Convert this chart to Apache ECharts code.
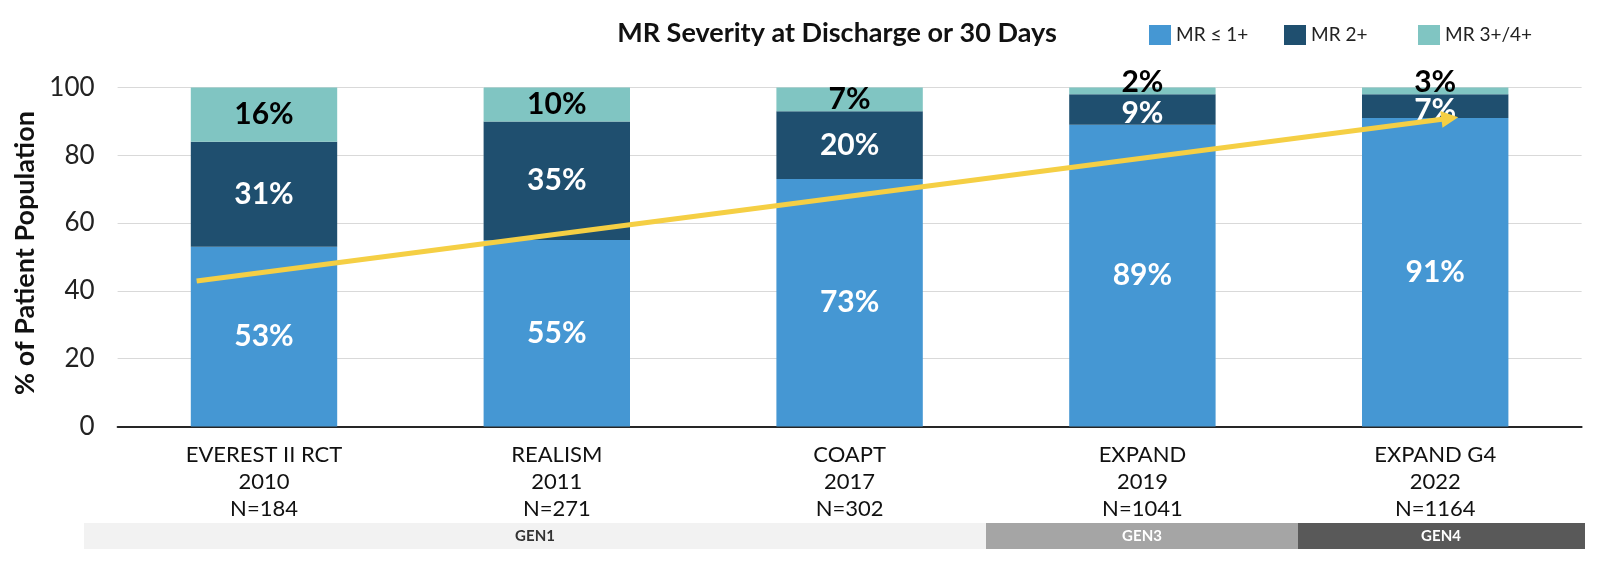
<!DOCTYPE html>
<html>
<head>
<meta charset="utf-8">
<script src="https://cdn.jsdelivr.net/npm/echarts@6/dist/echarts.min.js"></script>
<style>
  html, body { margin: 0; padding: 0; background: #ffffff; }
  #chart { width: 1606px; height: 572px; }
</style>
</head>
<body>
<div id="chart"></div>
<script>
// ---- data ----
const trialNames = ['EVEREST II RCT', 'REALISM', 'COAPT', 'EXPAND', 'EXPAND G4'];
const trialYears = ['2010', '2011', '2017', '2019', '2022'];
const sampleSizes = [184, 271, 302, 1041, 1164];
const mrLe1 = [53, 55, 73, 89, 91];
const mr2 = [31, 35, 20, 9, 7];
const mr34 = [16, 10, 7, 2, 3];
const seriesNames = ['MR \u2264 1+', 'MR 2+', 'MR 3+/4+'];
const yTicks = [0, 20, 40, 60, 80, 100];
const trendStart = [-0.23, 42.9];
const trendEnd = [4.05, 90.9];
const genLabels = ['GEN1', 'GEN3', 'GEN4'];

// ---- build ----
const categories = trialNames.map((n, i) => n + '\n' + trialYears[i] + '\nN=' + sampleSizes[i]);
const colors = ['#4597d3', '#1f4f6f', '#80c5c2'];
const FONT = 'Lato, "Open Sans", sans-serif';

const chart = echarts.init(document.getElementById('chart'));

function pctLabel(color) {
  return {
    show: true,
    position: 'inside',
    formatter: p => p.value + '%',
    color: color,
    fontFamily: FONT,
    fontWeight: 'bold',
    fontSize: 30
  };
}

const topData = mr34.map(v => v < 5 ? { value: v, label: { offset: [0, -9] } } : v);
const midData = mr2.map(v => v < 10 ? { value: v, label: { offset: [0, 4] } } : v);

const legendLefts = [1144, 1279, 1413];

const option = {
  animation: false,
  backgroundColor: '#ffffff',
  title: {
    text: 'MR Severity at Discharge or 30 Days',
    left: 832,
    top: 15,
    textAlign: 'center',
    textStyle: { fontFamily: FONT, fontWeight: 'bold', fontSize: 27, color: '#111' }
  },
  legend: seriesNames.map((nm, i) => ({
    data: [nm],
    left: legendLefts[i],
    top: 20,
    itemWidth: 22,
    itemHeight: 20,
    itemGap: 10,
    icon: 'rect',
    selectedMode: false,
    textStyle: { fontFamily: FONT, fontSize: 19, color: '#222' }
  })),
  grid: { left: 117.6, right: 24.4, top: 87.5, bottom: 145.5 },
  xAxis: [
    {
      type: 'category',
      data: categories,
      axisTick: { show: false },
      axisLine: { lineStyle: { color: '#262626', width: 2 } },
      axisLabel: {
        margin: 15,
        color: '#111',
        fontFamily: FONT,
        fontSize: 22,
        lineHeight: 27,
        interval: 0
      }
    },
    { type: 'value', min: -0.5, max: 4.5, show: false }
  ],
  yAxis: {
    type: 'value',
    min: yTicks[0],
    max: yTicks[yTicks.length - 1],
    interval: yTicks[1] - yTicks[0],
    name: '% of Patient Population',
    nameLocation: 'middle',
    nameGap: 70,
    nameTextStyle: { fontFamily: FONT, fontWeight: 'bold', fontSize: 27, color: '#111', padding: [0, 0, 0, 8] },
    axisLine: { show: false },
    axisTick: { show: false },
    axisLabel: { margin: 23, color: '#222', fontFamily: FONT, fontSize: 26 },
    splitLine: { lineStyle: { color: '#d9d9d9', width: 1 } }
  },
  series: [
    { name: seriesNames[0], type: 'bar', stack: 'mr', barWidth: '50%', data: mrLe1,
      itemStyle: { color: colors[0] }, label: pctLabel('#ffffff') },
    { name: seriesNames[1], type: 'bar', stack: 'mr', barWidth: '50%', data: midData,
      itemStyle: { color: colors[1] }, label: pctLabel('#ffffff') },
    { name: seriesNames[2], type: 'bar', stack: 'mr', barWidth: '50%', data: topData,
      itemStyle: { color: colors[2] }, label: pctLabel('#000000') },
    {
      name: 'trend', type: 'line', xAxisIndex: 1, data: [], silent: true,
      markLine: {
        silent: true,
        symbol: ['none', 'triangle'],
        symbolSize: 17,
        label: { show: false },
        lineStyle: { color: '#f5cf44', width: 5, type: 'solid' },
        emphasis: { disabled: true },
        data: [[{ coord: trendStart }, { coord: trendEnd }]]
      }
    }
  ],
  graphic: [
    { type: 'rect', shape: { x: 84, y: 523, width: 902, height: 26 }, style: { fill: '#f2f2f2' } },
    { type: 'rect', shape: { x: 986, y: 523, width: 312, height: 26 }, style: { fill: '#a5a5a5' } },
    { type: 'rect', shape: { x: 1298, y: 523, width: 287, height: 26 }, style: { fill: '#595959' } },
    { type: 'text', x: 535, y: 536, style: { text: genLabels[0], fill: '#333', font: 'bold 15px ' + FONT, textAlign: 'center', textVerticalAlign: 'middle' } },
    { type: 'text', x: 1142, y: 536, style: { text: genLabels[1], fill: '#ffffff', font: 'bold 15px ' + FONT, textAlign: 'center', textVerticalAlign: 'middle' } },
    { type: 'text', x: 1441, y: 536, style: { text: genLabels[2], fill: '#ffffff', font: 'bold 15px ' + FONT, textAlign: 'center', textVerticalAlign: 'middle' } }
  ]
};

chart.setOption(option);
</script>
</body>
</html>
